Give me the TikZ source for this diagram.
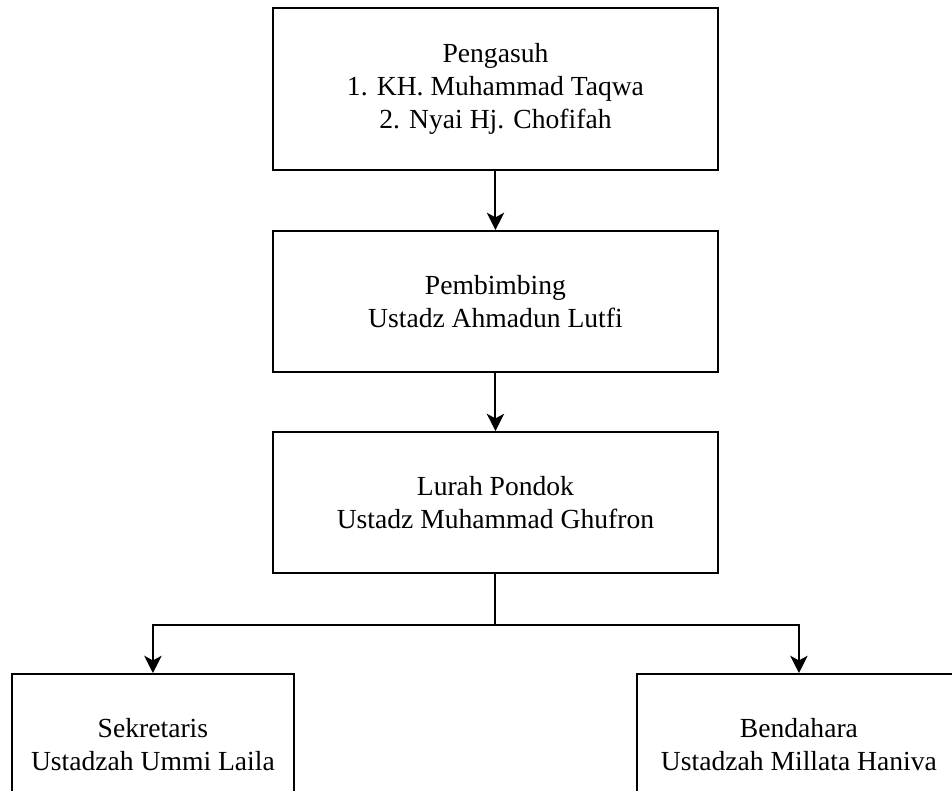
\documentclass[tikz,border=0pt]{standalone}
\usepackage{fontspec}
\setmainfont{Liberation Serif}
\usetikzlibrary{shapes,arrows.meta,positioning}

\begin{document}
\begin{tikzpicture}[node distance=159.4pt]

\tikzstyle{box} = [rectangle, minimum width=333.75pt, minimum height=105.75pt, text centered, align=center, draw=black, line width=1.5pt, font=\fontsize{20.7}{24.75}\selectfont]
\tikzstyle{smallbox} = [box, minimum width=211.5pt]
\tikzstyle{arrow} = [line width=1.5pt,-{Stealth[length=13pt,width=13pt,inset=3.5pt]}]

\useasboundingbox (-371.6pt,-526.5pt) rectangle (342.4pt,66.75pt);
\clip (-371.6pt,-526.5pt) rectangle (342.4pt,66.75pt);

\node (pengasuh) [box, minimum height=121.5pt] {Pengasuh\\1. KH. Muhammad Taqwa\\2. Nyai Hj. Chofifah};
\node (pembimbing) [box, below of=pengasuh] {Pembimbing\\Ustadz Ahmadun Lutfi};
\node (lurah) [box, below of=pembimbing, yshift=8.6pt] {Lurah Pondok\\Ustadz Muhammad Ghufron};
\node (sekretaris) [smallbox, below of=lurah, xshift=-256.9pt, yshift=-22.1pt] {Sekretaris\\Ustadzah Ummi Laila};
\node (bendahara) [smallbox, minimum width=243pt, below of=lurah, xshift=227.6pt, yshift=-22.1pt] {Bendahara\\Ustadzah Millata Haniva};

\coordinate (split) at ([yshift=-38.25pt]lurah.south);

\draw [arrow] (pengasuh) -- (pembimbing);
\draw [arrow] (pembimbing) -- (lurah);
\draw [line width=1.5pt] (lurah) -- (split);
\draw [arrow] (split) -| (sekretaris);
\draw [arrow] (split) -| (bendahara);

\end{tikzpicture}
\end{document}
